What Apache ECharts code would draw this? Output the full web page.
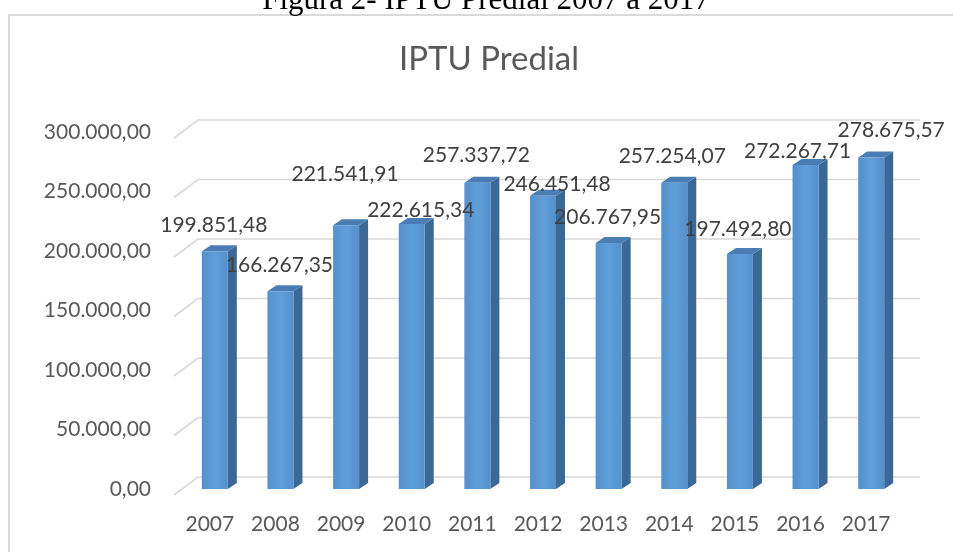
<!DOCTYPE html>
<html>
<head>
<meta charset="utf-8">
<script src="https://cdn.jsdelivr.net/npm/echarts@6.0.0/dist/echarts.min.js"></script>
<style>
  html, body { margin: 0; padding: 0; background: #fff; }
  #chart { width: 953px; height: 552px; }
</style>
</head>
<body>
<div id="chart"></div>
<script>
var anos = ["2007", "2008", "2009", "2010", "2011", "2012", "2013", "2014", "2015", "2016", "2017"];
var valores = [199851.48, 166267.35, 221541.91, 222615.34, 257337.72, 246451.48, 206767.95, 257254.07, 197492.80, 272267.71, 278675.57];
var ticks = [0, 50000, 100000, 150000, 200000, 250000, 300000];
// deslocamento manual dos rótulos (como no Excel), em px
var labelNudge = [[0, 0], [0, 0], [0, -25], [10, 12], [0, -2], [15, 15], [0, 0], [-1, -1], [-1, 1], [-7, 12], [21, -1]];

function fmtBR(v) {
  var parts = Number(v).toFixed(2).split(".");
  parts[0] = parts[0].replace(/\B(?=(\d{3})+(?!\d))/g, ".");
  return parts[0] + "," + parts[1];
}

var myChart = echarts.init(document.getElementById("chart"));
var font = "Lato";

var option = {
  backgroundColor: "#ffffff",
  animation: false,
  graphic: [
    {
      type: "rect",
      shape: { x: 9, y: 15, width: 980, height: 600 },
      style: { fill: "none", stroke: "#d9d9d9", lineWidth: 2 },
      z: 0
    },
    {
      type: "text",
      x: 486, y: 1,
      style: {
        text: "Figura 2- IPTU Predial 2007 a 2017",
        font: "31px 'Liberation Serif'",
        fill: "#000",
        align: "center",
        verticalAlign: "middle"
      }
    },
    {
      type: "text",
      x: 489, y: 59,
      style: {
        text: "IPTU Predial",
        font: "33px Lato",
        fill: "#595959",
        align: "center",
        verticalAlign: "middle"
      }
    }
  ],
  grid: { left: 182, right: 49, top: 132, bottom: 63 },
  xAxis: {
    type: "category",
    data: anos,
    axisLine: { show: false },
    axisTick: { show: false },
    axisLabel: {
      color: "#595959",
      fontSize: 21,
      fontFamily: font,
      margin: 25,
      padding: [0, 10, 0, 0]
    }
  },
  yAxis: {
    type: "value",
    min: 0,
    max: 300000,
    interval: 50000,
    splitLine: { show: false },
    axisLine: { show: false },
    axisTick: { show: false },
    axisLabel: {
      color: "#595959",
      fontSize: 21,
      fontFamily: font,
      margin: 31,
      padding: [10, 0, 0, 0],
      formatter: function (v) { return fmtBR(v); }
    }
  },
  series: [
    {
      // parede de fundo com as linhas de grade em perspectiva
      name: "grade",
      type: "custom",
      z: 1,
      silent: true,
      data: ticks.map(function (t) { return [0, t]; }),
      encode: { x: 0, y: 1 },
      renderItem: function (params, api) {
        var cs = params.coordSys;
        var y = api.coord([0, api.value(1)])[1];
        return {
          type: "polyline",
          shape: {
            points: [
              [cs.x - 8, y + 6],
              [cs.x + 16, y - 12],
              [cs.x + cs.width + 16, y - 12]
            ]
          },
          style: { fill: "none", stroke: "#d9d9d9", lineWidth: 1.6 }
        };
      }
    },
    {
      name: "IPTU",
      type: "custom",
      z: 3,
      data: valores.map(function (v, i) { return [i, v]; }),
      encode: { x: 0, y: 1 },
      renderItem: function (params, api) {
        var i = api.value(0);
        var top = api.coord([i, api.value(1)]);
        var base = api.coord([i, 0]);
        var c = top[0], yt = top[1], yb = base[1];
        var hw = 13, dx = 9, dy = 6;
        var nudge = labelNudge[params.dataIndex] || [0, 0];
        return {
          type: "group",
          children: [
            {
              type: "polygon",
              shape: { points: [[c + hw, yt], [c + hw + dx, yt - dy], [c + hw + dx, yb - dy], [c + hw, yb]] },
              style: { fill: "#3b6894" }
            },
            {
              type: "polygon",
              shape: { points: [[c - hw, yt], [c - hw + dx, yt - dy], [c + hw + dx, yt - dy], [c + hw, yt]] },
              style: { fill: "#4a7db3" }
            },
            {
              type: "rect",
              shape: { x: c - hw, y: yt, width: hw * 2, height: yb - yt },
              style: {
                fill: new echarts.graphic.LinearGradient(0, 0, 1, 0, [
                  { offset: 0, color: "#5590cc" },
                  { offset: 0.5, color: "#5f9fd9" },
                  { offset: 1, color: "#5590cc" }
                ])
              }
            },
            {
              type: "text",
              x: c - 1 + nudge[0],
              y: yt - 26 + nudge[1],
              z2: 10,
              style: {
                text: fmtBR(api.value(1)),
                font: "21px Lato",
                fill: "#404040",
                align: "center",
                verticalAlign: "middle"
              }
            }
          ]
        };
      }
    }
  ]
};

myChart.setOption(option);
</script>
</body>
</html>
